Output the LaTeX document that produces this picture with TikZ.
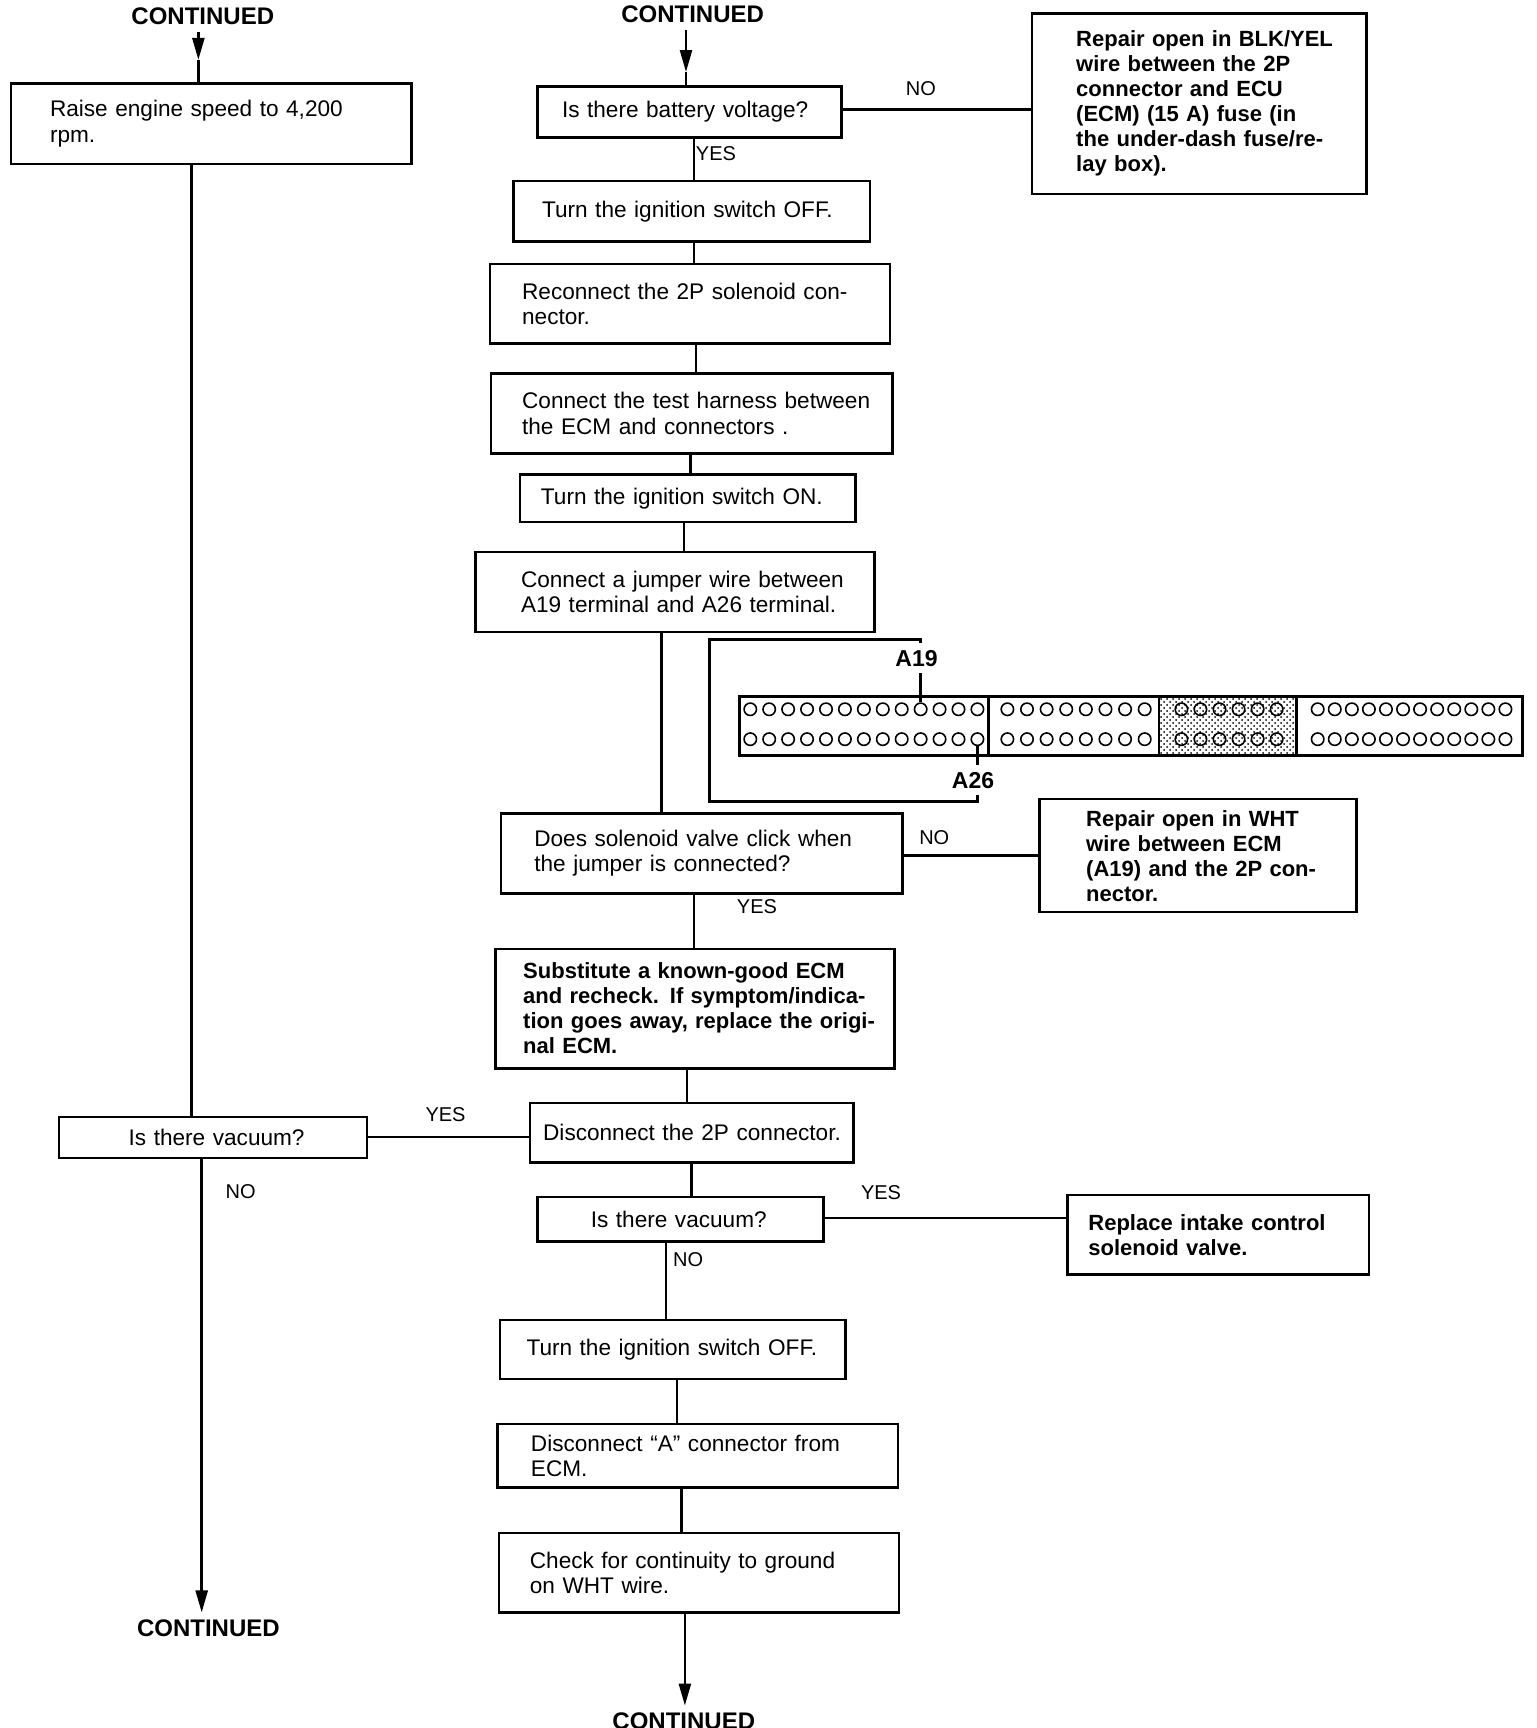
\documentclass[tikz,border=0pt]{standalone}
\usepackage{fontspec}
\setmainfont{Liberation Sans}
\usetikzlibrary{arrows.meta,patterns}

% one unit of the drawing
\newdimen\px
\px=0.55411pt

% justified line and plain line, both with a left margin
\newcommand{\jl}[3]{\hspace*{#1\px}\makebox[#2\px][s]{#3}}
\newcommand{\pl}[2]{\hspace*{#1\px}#2}
\newcommand{\up}[1]{\par\vspace{#1\px}}

\tikzset{
    % Boxes
    box/.style 2 args={draw, line width=1.25pt, anchor=north west, inner sep=0pt,
        minimum width=#1\px, minimum height=#2\px, text width=#1\px, align=left,
        font=\fontsize{11.3}{12.6}\selectfont},
    bold box/.style 2 args={box={#1}{#2}, font=\fontsize{11}{12.5}\selectfont\bfseries},
    % Connectors
    wire/.style={line width=1.25pt},
    tip/.style={wire, -{Triangle[length=11pt,width=6pt]}},
    % Labels
    cont/.style={font=\fontsize{12}{14}\selectfont\bfseries},
    answer/.style={font=\fontsize{10}{12}\selectfont},
    pinlabel/.style={font=\fontsize{11.5}{14}\selectfont\bfseries},
    % Connector drawing
    pin/.style={draw, circle, line width=0.8pt, inner sep=0pt, minimum size=6.2pt},
}

\begin{document}
\begin{tikzpicture}[x=0.55411pt,y=-0.55411pt]
    \useasboundingbox (0,0) rectangle (1386,1559.25);

    % Left column
    \node (contL) [cont] at (183,15) {CONTINUED};
    \node (raise) [box={361}{73}] at (9,74) {\jl{35}{305}{Raise engine speed to 4,200}\\\pl{35}{rpm.}\up{10}};
    \node (vacL) [box={278}{37}] at (52,1007) {\pl{63}{Is there vacuum?}};
    \node (contLB) [cont] at (188,1469) {CONTINUED};

    \coordinate (headL) at (179,54);
    \draw[tip] (179,0 |- contL.south) -- (headL);
    \draw[wire] (headL) -- (headL |- raise.north);
    \draw[wire] (173,0 |- raise.south) -- (173,0 |- vacL.north);
    \draw[tip] (182,0 |- vacL.south) -- (182,0 |- contLB.north) node[pos=0.07,right=8pt,answer,name=noL] {NO};

    % Right column
    \node (contR) [cont] at (625,13) {CONTINUED};
    \node (batt) [box={274}{46}] at (484,77) {\pl{22}{Is there battery voltage?}};
    \node (offA) [box={322}{55}] at (462,162) {\pl{26}{Turn the ignition switch OFF.}};
    \node (recon) [box={361}{72}] at (441,237) {\jl{29}{301}{Reconnect the 2P solenoid con-}\\\pl{29}{nector.}};
    \node (harness) [box={362}{72}] at (442,336) {\jl{28}{301}{Connect the test harness between}\\\jl{28}{260}{the ECM and connectors .}\up{15}};
    \node (on) [box={303}{43}] at (468,427) {\pl{19}{Turn the ignition switch ON.}};
    \node (jumper) [box={360}{72}] at (428,497) {\jl{41}{301}{Connect a jumper wire between}\\\jl{41}{300}{A19 terminal and A26 terminal.}};
    \node (click) [box={362}{72}] at (451,733) {\jl{30}{301}{Does solenoid valve click when}\\\pl{30}{the jumper is connected?}};
    \node (subst) [bold box={360}{108}] at (446,855) {\jl{25}{301}{Substitute a known-good ECM}\\\jl{25}{301}{and recheck. If symptom/indica-}\\\jl{25}{301}{tion goes away, replace the origi-}\\\pl{25}{nal ECM.}};
    \node (disc) [box={292}{54}] at (477,994) {\pl{12}{Disconnect the 2P connector.}};
    \node (vacR) [box={258}{40}] at (484,1079) {\pl{48}{Is there vacuum?}};
    \node (offB) [box={312}{53}] at (450,1190) {\pl{24}{Turn the ignition switch OFF.}};
    \node (discA) [box={361}{57}] at (448,1284) {\jl{30}{301}{Disconnect “A” connector from}\\\pl{30}{ECM.}};
    \node (check) [box={361}{72}] at (449,1382) {\jl{28}{303}{Check for continuity to ground}\\\pl{28}{on WHT wire.}};
    \node (contRB) [cont] at (617,1553) {CONTINUED};

    % Repair boxes
    \node (repA) [bold box={302}{163}] at (930,11) {\jl{40}{211}{Repair open in BLK/YEL}\\\jl{40}{211}{wire between the 2P}\\\jl{40}{211}{connector and ECU}\\\jl{40}{211}{(ECM) (15 A) fuse (in}\\\jl{40}{211}{the under-dash fuse/re-}\\\pl{40}{lay box).}};
    \node (repB) [bold box={286}{102}] at (937,720) {\jl{42}{211}{Repair open in WHT}\\\jl{42}{211}{wire between ECM}\\\jl{42}{211}{(A19) and the 2P con-}\\\pl{42}{nector.}};
    \node (repC) [bold box={272}{72}] at (962,1077) {\jl{19}{224}{Replace intake control}\\\pl{19}{solenoid valve.}};

    % Connectors
    \coordinate (headR) at (619,65);
    \draw[tip] (619,0 |- contR.south) -- (headR);
    \draw[wire] (headR) -- (headR |- batt.north);
    \draw[wire] (626,0 |- batt.south) -- (626,0 |- offA.north);
    \draw[wire] (626,0 |- offA.south) -- (626,0 |- recon.north);
    \draw[wire] (628,0 |- recon.south) -- (628,0 |- harness.north);
    \draw[wire] (623,0 |- harness.south) -- (623,0 |- on.north);
    \draw[wire] (617,0 |- on.south) -- (617,0 |- jumper.north);
    \draw[wire] (597,0 |- jumper.south) -- (597,0 |- click.north);
    \draw[wire] (626,0 |- click.south) -- (626,0 |- subst.north);
    \draw[wire] (620,0 |- subst.south) -- (620,0 |- disc.north);
    \draw[wire] (624,0 |- disc.south) -- (624,0 |- vacR.north);
    \draw[wire] (601,0 |- vacR.south) -- (601,0 |- offB.north);
    \draw[wire] (611,0 |- offB.south) -- (611,0 |- discA.north);
    \draw[wire] (615,0 |- discA.south) -- (615,0 |- check.north);
    \draw[tip] (618,0 |- check.south) -- (618,0 |- contRB.north);
    \draw[wire] (batt.east |- 0,99) -- (repA.west |- 0,99);
    \draw[wire] (click.east |- 0,772) -- (repB.west |- 0,772);
    \draw[wire] (vacL.east |- 0,1026) -- (disc.west |- 0,1026);
    \draw[wire] (vacR.east |- 0,1099) -- (repC.west |- 0,1099);

    % YES and NO
    \node (yesA) [answer] at (646,139) {YES};
    \node (noA) [answer] at (831,80) {NO};
    \node (yesB) [answer] at (683,818) {YES};
    \node (noB) [answer] at (843,756) {NO};
    \node (yesC) [answer] at (402,1006) {YES};
    \node (yesD) [answer] at (795,1076) {YES};
    \node (noC) [answer] at (621,1137) {NO};

    % Connector block
    \fill[pattern=crosshatch dots] (1046,627) rectangle (1170,680);
    \node (block) [draw, line width=1.7pt, anchor=north west, inner sep=0pt, minimum width=706\px, minimum height=53\px] at (666,627) {};
    \draw[line width=1.7pt] (892,0 |- block.north) -- (892,0 |- block.south);
    \draw[line width=1.2pt] (1046,0 |- block.north) -- (1046,0 |- block.south);
    \draw[line width=1.2pt] (1170,0 |- block.north) -- (1170,0 |- block.south);
    \foreach \row/\y in {t/640,b/667} {
        \foreach \i in {0,...,12} \node (\row a\i) [pin] at ({677+\i*17.08},\y) {};
        \foreach \i in {0,...,7} \node (\row b\i) [pin] at ({909+\i*17.7},\y) {};
        \foreach \i in {0,...,5} \node (\row c\i) [pin] at ({1066+\i*17.2},\y) {};
        \foreach \i in {0,...,11} \node (\row d\i) [pin] at ({1189+\i*15.4},\y) {};
    }
    \node (pinA) [pinlabel] at (827,594) {A19};
    \node (pinB) [pinlabel] at (878,704) {A26};
    \draw[wire] (pinA.south -| ta9.north) -- (ta9.north);
    \draw[wire] (bb0.south -| ba12) -- (pinB.north -| ba12);
    \draw[wire] (ba12) -- (ba12 |- block.south);
    \draw[wire] (pinA.north -| ta9) -- (ta9 |- 0,577) -- (640,577) -- (640,723) -- (ba12 |- 0,723) -- (pinB.south -| ba12);
\end{tikzpicture}
\end{document}
